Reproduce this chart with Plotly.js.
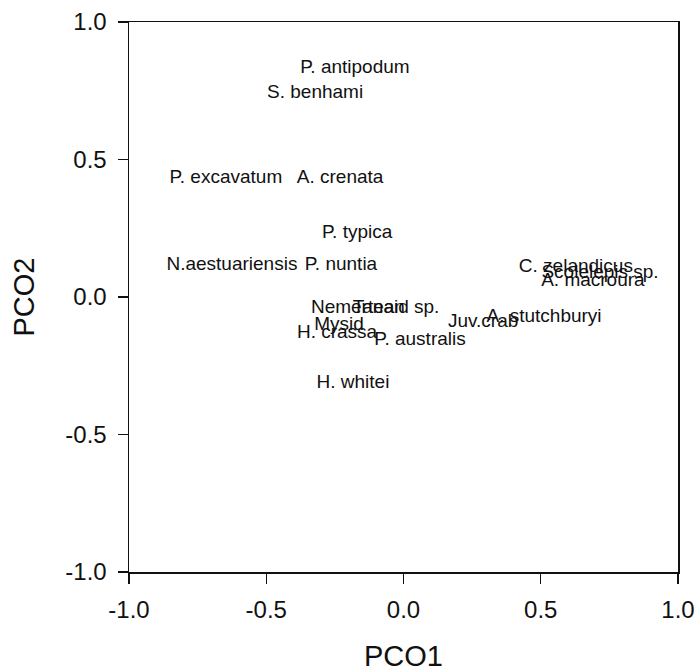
<!DOCTYPE html>
<html>
<head>
<meta charset="utf-8">
<script src="https://cdn.plot.ly/plotly-3.0.1.min.js"></script>
<style>html,body{margin:0;padding:0;background:#fff;}#chart{width:697px;height:672px;}</style>
</head>
<body>
<div id="chart"></div>
<script>
const species = ["P. antipodum","S. benhami","P. excavatum","A. crenata","P. typica","N.aestuariensis","P. nuntia","C. zelandicus","Scolelepis sp.","A. macroura","Nemertean","Tanaid sp.","Juv.crab","A. stutchburyi","Mysid","H. crassa","P. australis","H. whitei"];
const pco1 = [-0.177,-0.322,-0.647,-0.231,-0.169,-0.625,-0.228,0.628,0.716,0.690,-0.166,-0.027,0.290,0.512,-0.235,-0.242,0.060,-0.184];
const pco2 = [0.833,0.742,0.433,0.433,0.233,0.116,0.116,0.109,0.087,0.058,-0.040,-0.040,-0.091,-0.073,-0.102,-0.131,-0.156,-0.313];
const tickVals = [-1.0,-0.5,0.0,0.5,1.0];
const tickText = ["-1.0","-0.5","0.0","0.5","1.0"];

const font = "Liberation Sans, Arial, Helvetica, sans-serif";
const trace = {
  x: pco1, y: pco2, text: species, mode: "text", type: "scatter",
  textposition: "middle center",
  textfont: {family: font, size: 19, color: "#111"},
  hoverinfo: "text", showlegend: false, cliponaxis: false
};
const axisCommon = {
  range: [-1, 1], tickvals: tickVals, ticktext: tickText,
  showgrid: false, zeroline: false, showline: true, mirror: true,
  linecolor: "#111", linewidth: 1.5, ticks: "outside", ticklen: 10, tickwidth: 1.3, tickcolor: "#111",
  ticklabelstandoff: 6,
  tickfont: {family: font, size: 24, color: "#111"}
};
const layout = {
  width: 697, height: 672,
  margin: {l: 129, r: 19, t: 22, b: 100},
  paper_bgcolor: "#fff", plot_bgcolor: "#fff",
  xaxis: Object.assign({}, axisCommon, {title: {text: "PCO1", font: {family: font, size: 29, color: "#111"}, standoff: 26}}),
  yaxis: Object.assign({}, axisCommon, {title: {text: "PCO2", font: {family: font, size: 29, color: "#111"}, standoff: 22}}),
  showlegend: false
};
Plotly.newPlot("chart", [trace], layout, {displayModeBar: false, staticPlot: true});
</script>
</body>
</html>
